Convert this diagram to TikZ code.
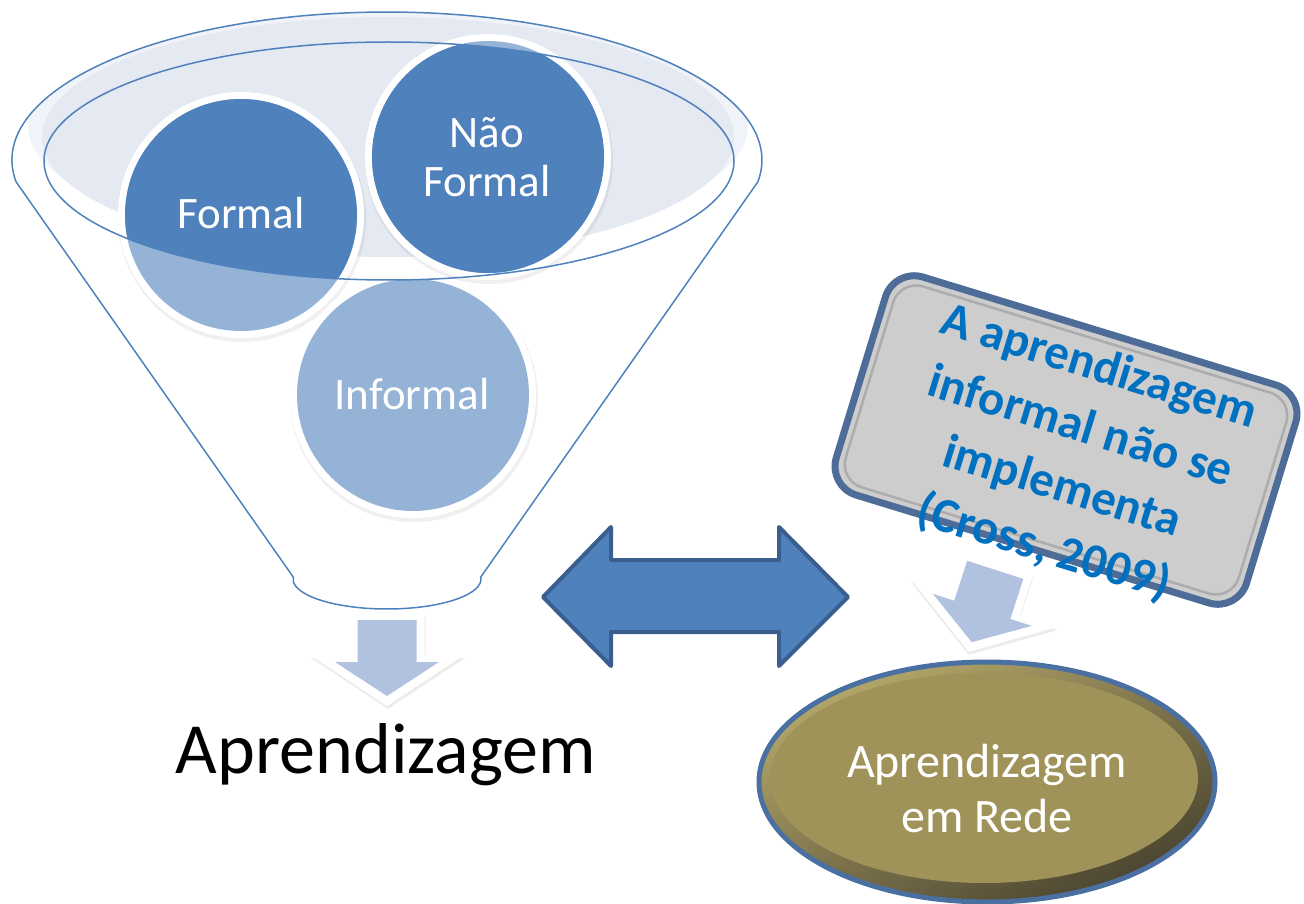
\documentclass[tikz,border=0pt]{standalone}
\usepackage{fontspec}
\setmainfont{Carlito}
\usetikzlibrary{calc}
\definecolor{dkblue}{HTML}{4F81BD}
\definecolor{ltblue}{HTML}{95B3D7}
\definecolor{funnelfill}{HTML}{E4E9F2}
\definecolor{rimfill}{HTML}{F0F3F8}
\definecolor{arrfill}{HTML}{B0C2DF}
\definecolor{arrline}{HTML}{3A5F8E}
\definecolor{olive}{HTML}{A09359}
\definecolor{olivedark}{HTML}{4A4430}
\definecolor{olivelight}{HTML}{B4A86A}
\definecolor{rimblue}{HTML}{4A6FA1}
\definecolor{boxgray}{HTML}{CDCDCD}
\definecolor{boxblue}{HTML}{4D6C98}
\definecolor{txtblue}{HTML}{0070C0}
\begin{document}
\begin{tikzpicture}[x=1pt,y=-1pt,
  funnelline/.style={draw=dkblue, line width=1.5pt},
  circtext/.style={text=white, font=\fontsize{45}{49}\selectfont, align=center},
  bigtext/.style={text=black, font=\fontsize{72}{76}\selectfont},
  redetext/.style={text=white, font=\fontsize{48}{55}\selectfont, align=center},
  boxtextstyle/.style={text=txtblue, font=\bfseries\fontsize{49}{63}\selectfont, align=center},
  notebox/.style={draw=boxblue, line width=7pt, fill=boxgray, rounded corners=30pt,
     minimum width=429pt, minimum height=228pt, inner sep=0pt},
  bevelbox/.style={draw=gray!65, line width=2.5pt, rounded corners=24pt,
     minimum width=411pt, minimum height=210pt, inner sep=0pt},
  arrshadow/.style={fill=gray, opacity=0.15},
  arrouter/.style={fill=white},
  arrinner/.style={fill=arrfill},
  dblarrow/.style={fill=dkblue, draw=arrline, line width=4pt, line join=round}
]
\useasboundingbox (0,0) rectangle (1304,904);

% ---------- funnel ----------
\begin{scope}
  \clip (387,160) ellipse [x radius=375, y radius=148];
  \fill[rimfill] (388,125) ellipse [x radius=360, y radius=125];
\end{scope}
\fill[funnelfill] (388,137) ellipse [x radius=346, y radius=120];

% circles: shadows, white rings, light fill
\foreach \cx/\cy in {241/215, 488/157, 413/395}{
  \fill[gray, opacity=0.12] (\cx+1,\cy+3) circle (124);
}
\foreach \cx/\cy in {241/215, 488/157, 413/395}{
  \fill[white] (\cx,\cy) circle (123);
  \fill[ltblue] (\cx,\cy) circle (116);
}
\begin{scope}
  \clip (389,161) ellipse [x radius=345, y radius=119];
  \foreach \cx/\cy in {241/215, 488/157, 413/395}{
    \fill[dkblue] (\cx,\cy) circle (116);
  }
\end{scope}
\draw[funnelline] (389,161) ellipse [x radius=345, y radius=119];
\draw[funnelline, line join=round]
  (16.1,181.9) arc[start angle=171.5, end angle=368.5, x radius=375, y radius=148]
  -- (480.8,577) arc[start angle=-3.8, end angle=183.8, x radius=94, y radius=30]
  -- cycle;

\node[circtext] (formal) at (241,213) {Formal};
\node[circtext] (naoformal) at (487,157) {Não\\Formal};
\node[circtext] (informal) at (412,394) {Informal};

% ---------- down arrow under funnel ----------
\begin{scope}[shift={(387,658)}]
  \fill[arrshadow] (-36.5,-43) -- (38.5,-43) -- (38.5,0) -- (78,0) -- (1,51) -- (-76,0) -- (-36.5,0) -- cycle;
  \fill[arrouter] (-37.5,-46) -- (37.5,-46) -- (37.5,-3) -- (77,-3) -- (0,48) -- (-77,-3) -- (-37.5,-3) -- cycle;
  \fill[arrinner] (-29.5,-38) -- (29.5,-38) -- (29.5,4) -- (52,4) -- (0,38) -- (-52,4) -- (-29.5,4) -- cycle;
\end{scope}
\node[bigtext] (aprend) at (386,755) {Aprendizagem};

% ---------- double arrow ----------
\draw[dblarrow] (543,597) -- (611,527) -- (611,560) -- (779,560) -- (779,527)
  -- (848,597) -- (779,666) -- (779,632) -- (611,632) -- (611,666) -- cycle;

% ---------- tilted down arrow ----------
\begin{scope}[shift={(983.5,606)}, rotate=-18]
  \fill[arrshadow] (-36.5,-43) -- (38.5,-43) -- (38.5,0) -- (78,0) -- (1,51) -- (-76,0) -- (-36.5,0) -- cycle;
  \fill[arrouter] (-37.5,-46) -- (37.5,-46) -- (37.5,-3) -- (77,-3) -- (0,48) -- (-77,-3) -- (-37.5,-3) -- cycle;
  \fill[arrinner] (-29.5,-38) -- (29.5,-38) -- (29.5,4) -- (52,4) -- (0,38) -- (-52,4) -- (-29.5,4) -- cycle;
\end{scope}

% ---------- note box ----------
\node[notebox, rotate=-17] (note) at (1066,440) {};
\node[bevelbox, rotate=-17] (bevel) at (1066,440) {};
\node[boxtextstyle, rotate=-17] (notetext) at (1071,458)
  {A aprendizagem\\informal não se\\implementa\\(Cross, 2009)};

% ---------- network ellipse ----------
\shade[top color=olivelight, bottom color=olivedark, shading angle=25]
  (987,782) ellipse [x radius=228, y radius=120];
\fill[olive] (984,778) ellipse [x radius=214, y radius=105];
\draw[rimblue, line width=5pt] (987,782) ellipse [x radius=228, y radius=120];
\node[redetext] (rede) at (987,788) {Aprendizagem\\em Rede};
\end{tikzpicture}
\end{document}
